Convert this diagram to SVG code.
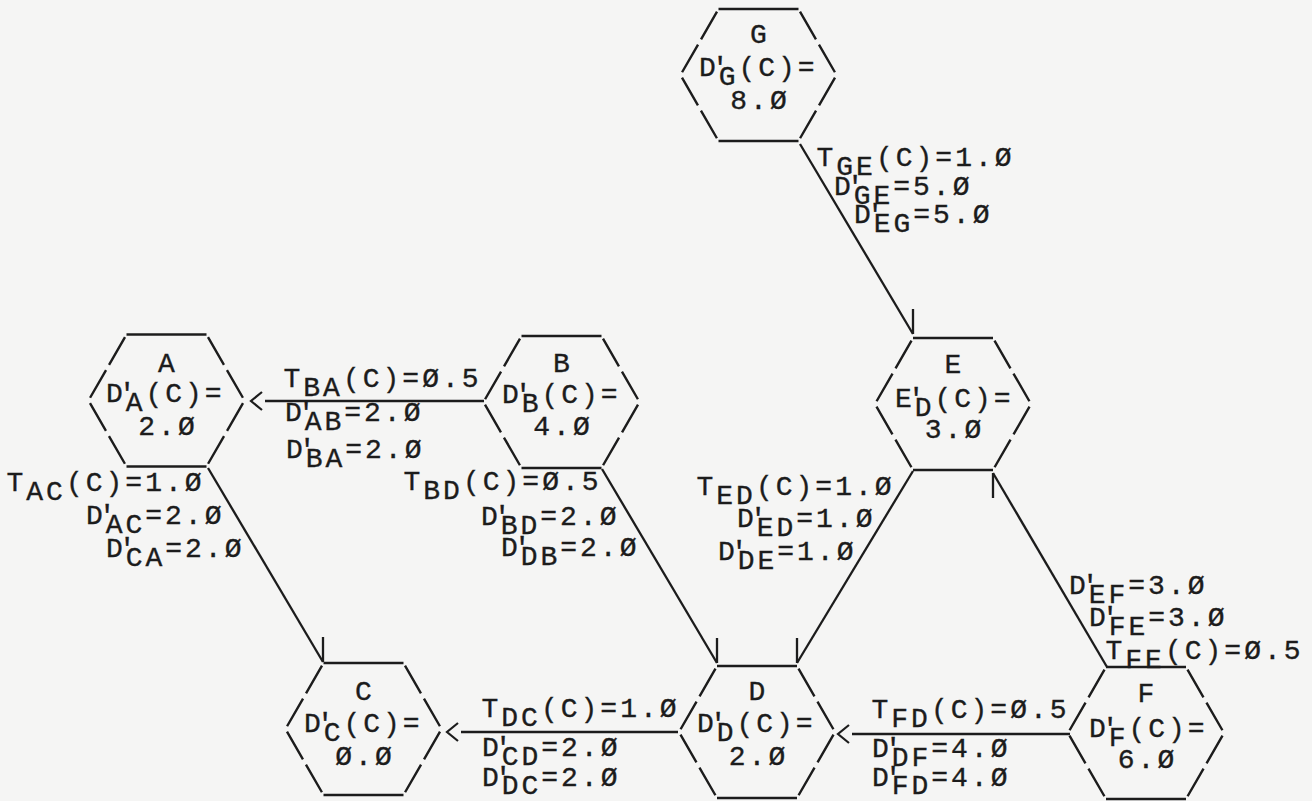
<svg xmlns="http://www.w3.org/2000/svg" xmlns:xlink="http://www.w3.org/1999/xlink" width="1312" height="801" viewBox="0 0 1312 801">
<style>
.bg{fill:#f5f5f4}
.edge{stroke:#1c1c1c;stroke-width:2.4;fill:none}
.side{stroke:#1c1c1c;stroke-width:2.4;fill:none;stroke-dasharray:0 3 32 6 32 3.2}
.con{stroke:#1c1c1c;stroke-width:2.3;fill:none}
.t{font-family:"Liberation Mono","Courier New",monospace;font-size:28px;letter-spacing:3px;fill:#1c1c1c;stroke:#1c1c1c;stroke-width:0.35}
.m{text-anchor:middle}
</style>
<defs>
<g id="hex">
<line class="edge" x1="-40" y1="-66" x2="40" y2="-66"/>
<line class="edge" x1="-40" y1="66" x2="40" y2="66"/>
<line class="side" x1="-40" y1="-66" x2="-78" y2="0"/>
<line class="side" x1="40" y1="-66" x2="78" y2="0"/>
<line class="side" x1="-78" y1="0" x2="-40" y2="66"/>
<line class="side" x1="78" y1="0" x2="40" y2="66"/>
</g>
<marker id="chev" markerUnits="userSpaceOnUse" markerWidth="40" markerHeight="40" viewBox="-20 -20 40 40" refX="0" refY="0" orient="auto" overflow="visible">
<path d="M3,-9 L14,0 L3,9" fill="none" stroke="#1c1c1c" stroke-width="2.2"/>
</marker>
<marker id="tickUp" markerUnits="userSpaceOnUse" markerWidth="40" markerHeight="40" viewBox="-20 -20 40 40" refX="0" refY="0" orient="0" overflow="visible">
<path d="M0,0 L0,-25" fill="none" stroke="#1c1c1c" stroke-width="2.3"/>
</marker>
<marker id="tickDown" markerUnits="userSpaceOnUse" markerWidth="40" markerHeight="40" viewBox="-20 -20 40 40" refX="0" refY="0" orient="0" overflow="visible">
<path d="M0,0 L0,25" fill="none" stroke="#1c1c1c" stroke-width="2.3"/>
</marker>
</defs>
<rect class="bg" x="0" y="0" width="1312" height="801"/>

<g id="connectors">
<line class="con" x1="800" y1="144" x2="913" y2="334" marker-end="url(#tickUp)"/>
<line class="con" x1="484" y1="401" x2="265" y2="401" marker-end="url(#chev)"/>
<line class="con" x1="208" y1="468" x2="323" y2="662" marker-end="url(#tickUp)"/>
<line class="con" x1="602" y1="469" x2="717" y2="663" marker-end="url(#tickUp)"/>
<line class="con" x1="913" y1="471" x2="797" y2="663" marker-end="url(#tickUp)"/>
<line class="con" x1="1107" y1="667" x2="993" y2="473" marker-end="url(#tickDown)"/>
<line class="con" x1="678" y1="732" x2="461" y2="732" marker-end="url(#chev)"/>
<line class="con" x1="1070" y1="734" x2="852" y2="734" marker-end="url(#chev)"/>
</g>

<g id="edge-labels">
<g id="label-GE">
<text class="t" x="816.5" y="166">T<tspan dy="9">GE</tspan><tspan dy="-9">(C)=1.Ø</tspan></text>
<text class="t" x="834" y="195">D<tspan dx="-7">'</tspan><tspan dx="-13" dy="9">GE</tspan><tspan dy="-9">=5.Ø</tspan></text>
<text class="t" x="854" y="223">D<tspan dx="-7">'</tspan><tspan dx="-13" dy="9">EG</tspan><tspan dy="-9">=5.Ø</tspan></text>
</g>
<g id="label-BA">
<text class="t" x="283.5" y="387">T<tspan dy="9">BA</tspan><tspan dy="-9">(C)=Ø.5</tspan></text>
<text class="t" x="285" y="421">D<tspan dx="-7">'</tspan><tspan dx="-13" dy="9">AB</tspan><tspan dy="-9">=2.Ø</tspan></text>
<text class="t" x="286" y="458">D<tspan dx="-7">'</tspan><tspan dx="-13" dy="9">BA</tspan><tspan dy="-9">=2.Ø</tspan></text>
</g>
<g id="label-AC">
<text class="t" x="6.5" y="491">T<tspan dy="9">AC</tspan><tspan dy="-9">(C)=1.Ø</tspan></text>
<text class="t" x="86" y="524">D<tspan dx="-7">'</tspan><tspan dx="-13" dy="9">AC</tspan><tspan dy="-9">=2.Ø</tspan></text>
<text class="t" x="106" y="557">D<tspan dx="-7">'</tspan><tspan dx="-13" dy="9">CA</tspan><tspan dy="-9">=2.Ø</tspan></text>
</g>
<g id="label-BD">
<text class="t" x="403.5" y="490">T<tspan dy="9">BD</tspan><tspan dy="-9">(C)=Ø.5</tspan></text>
<text class="t" x="481" y="525">D<tspan dx="-7">'</tspan><tspan dx="-13" dy="9">BD</tspan><tspan dy="-9">=2.Ø</tspan></text>
<text class="t" x="501" y="556">D<tspan dx="-7">'</tspan><tspan dx="-13" dy="9">DB</tspan><tspan dy="-9">=2.Ø</tspan></text>
</g>
<g id="label-ED">
<text class="t" x="696.5" y="495">T<tspan dy="9">ED</tspan><tspan dy="-9">(C)=1.Ø</tspan></text>
<text class="t" x="737" y="527">D<tspan dx="-7">'</tspan><tspan dx="-13" dy="9">ED</tspan><tspan dy="-9">=1.Ø</tspan></text>
<text class="t" x="718" y="560">D<tspan dx="-7">'</tspan><tspan dx="-13" dy="9">DE</tspan><tspan dy="-9">=1.Ø</tspan></text>
</g>
<g id="label-EF">
<text class="t" x="1069" y="594">D<tspan dx="-7">'</tspan><tspan dx="-13" dy="9">EF</tspan><tspan dy="-9">=3.Ø</tspan></text>
<text class="t" x="1089" y="626">D<tspan dx="-7">'</tspan><tspan dx="-13" dy="9">FE</tspan><tspan dy="-9">=3.Ø</tspan></text>
<text class="t" x="1105.5" y="659">T<tspan dy="9">FE</tspan><tspan dy="-9">(C)=Ø.5</tspan></text>
</g>
<g id="label-DC">
<text class="t" x="481.5" y="717">T<tspan dy="9">DC</tspan><tspan dy="-9">(C)=1.Ø</tspan></text>
<text class="t" x="482" y="756">D<tspan dx="-7">'</tspan><tspan dx="-13" dy="9">CD</tspan><tspan dy="-9">=2.Ø</tspan></text>
<text class="t" x="482" y="786">D<tspan dx="-7">'</tspan><tspan dx="-13" dy="8">DC</tspan><tspan dy="-8">=2.Ø</tspan></text>
</g>
<g id="label-FD">
<text class="t" x="871.5" y="718">T<tspan dy="9">FD</tspan><tspan dy="-9">(C)=Ø.5</tspan></text>
<text class="t" x="872" y="757">D<tspan dx="-7">'</tspan><tspan dx="-13" dy="9">DF</tspan><tspan dy="-9">=4.Ø</tspan></text>
<text class="t" x="872" y="786">D<tspan dx="-7">'</tspan><tspan dx="-13" dy="8">FD</tspan><tspan dy="-8">=4.Ø</tspan></text>
</g>
</g>

<g id="node-G">
<use xlink:href="#hex" href="#hex" x="758.5" y="75"/>
<text class="t m" x="760" y="43">G</text>
<text class="t" x="699" y="76">D<tspan dx="-7">'</tspan><tspan dx="-13" dy="9">G</tspan><tspan dy="-9">(C)=</tspan></text>
<text class="t m" x="760" y="109">8.Ø</text>
</g>
<g id="node-A">
<use xlink:href="#hex" href="#hex" x="166.5" y="400.5"/>
<text class="t m" x="168" y="372">A</text>
<text class="t" x="106" y="402">D<tspan dx="-7">'</tspan><tspan dx="-13" dy="9">A</tspan><tspan dy="-9">(C)=</tspan></text>
<text class="t m" x="168" y="435">2.Ø</text>
</g>
<g id="node-B">
<use xlink:href="#hex" href="#hex" x="561.5" y="402"/>
<text class="t m" x="563" y="372">B</text>
<text class="t" x="502" y="403">D<tspan dx="-7">'</tspan><tspan dx="-13" dy="9">B</tspan><tspan dy="-9">(C)=</tspan></text>
<text class="t m" x="563" y="435">4.Ø</text>
</g>
<g id="node-C">
<use xlink:href="#hex" href="#hex" x="363.5" y="729"/>
<text class="t m" x="365" y="700">C</text>
<text class="t" x="304" y="732">D<tspan dx="-7">'</tspan><tspan dx="-13" dy="9">C</tspan><tspan dy="-9">(C)=</tspan></text>
<text class="t m" x="365" y="765">Ø.Ø</text>
</g>
<g id="node-D">
<use xlink:href="#hex" href="#hex" x="757" y="732"/>
<text class="t m" x="758.5" y="700">D</text>
<text class="t" x="697" y="732">D<tspan dx="-7">'</tspan><tspan dx="-13" dy="9">D</tspan><tspan dy="-9">(C)=</tspan></text>
<text class="t m" x="758.5" y="765">2.Ø</text>
</g>
<g id="node-E">
<use xlink:href="#hex" href="#hex" x="953" y="404"/>
<text class="t m" x="954.5" y="373">E</text>
<text class="t" x="895" y="407">E<tspan dx="-7">'</tspan><tspan dx="-13" dy="9">D</tspan><tspan dy="-9">(C)=</tspan></text>
<text class="t m" x="954.5" y="438">3.Ø</text>
</g>
<g id="node-F">
<use xlink:href="#hex" href="#hex" x="1146" y="733"/>
<text class="t m" x="1147.5" y="702">F</text>
<text class="t" x="1089" y="737">D<tspan dx="-7">'</tspan><tspan dx="-13" dy="9">F</tspan><tspan dy="-9">(C)=</tspan></text>
<text class="t m" x="1147.5" y="768">6.Ø</text>
</g>
</svg>
